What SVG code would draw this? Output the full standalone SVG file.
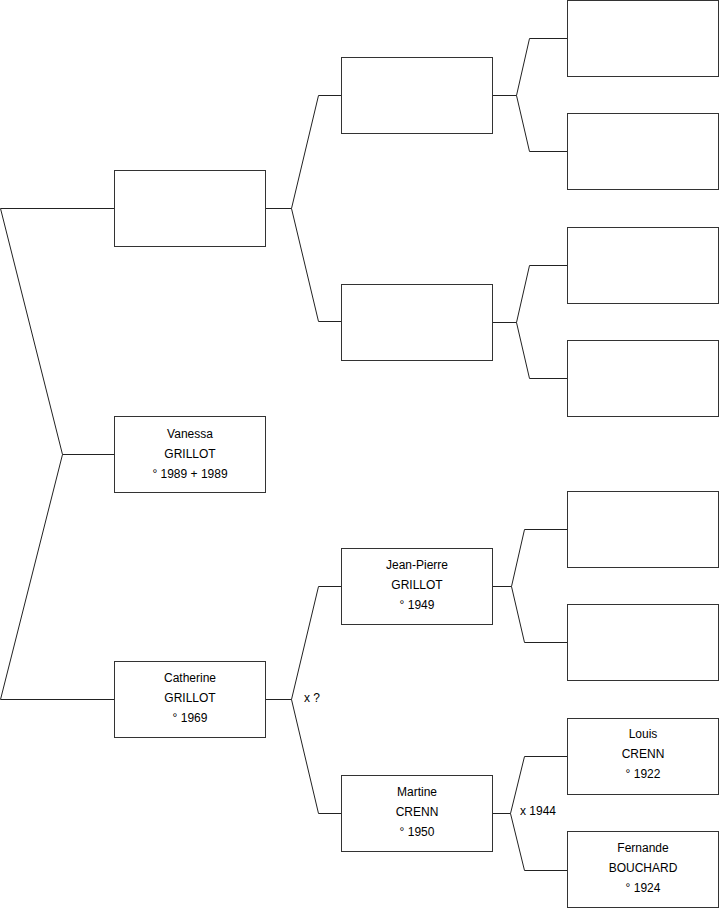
<svg xmlns="http://www.w3.org/2000/svg" width="719" height="908" viewBox="0 0 719 908">
<style>
.box{fill:#fff;stroke:#333;stroke-width:1}
.c{fill:none;stroke:#222;stroke-width:1}
text{font-family:"Liberation Sans",Arial,sans-serif;font-size:12px;fill:#000}
.t{text-anchor:middle}
</style>
<rect width="719" height="908" fill="#fff"/>
<g id="connectors">
<path class="c" d="M114.5,208.5H0.5L62.5,454.5L0.5,699.5H114.5M62.5,454.5H114.5"/>
<path class="c" d="M265.5,208.5H291.5M341.5,95.5H318.5L291.5,208.5L318.5,321.5H341.5"/>
<path class="c" d="M492.5,95.5H516.5M567.5,38.5H529.5L516.5,95.5L529.5,151.5H567.5"/>
<path class="c" d="M492.5,322.5H516.5M567.5,265.5H529.5L516.5,322.5L529.5,378.5H567.5"/>
<path class="c" d="M265.5,699.5H291.5M341.5,586.5H318.5L291.5,699.5L318.5,813.5H341.5"/>
<path class="c" d="M492.5,586.5H511.5M567.5,529.5H524.5L511.5,586.5L524.5,642.5H567.5"/>
<path class="c" d="M492.5,813.5H510.5M567.5,756.5H524.5L510.5,813.5L524.5,870.5H567.5"/>
<text x="304" y="702">x ?</text>
<text x="520" y="815">x 1944</text>
</g>
<g id="n-father"><rect class="box" x="114.5" y="170.5" width="151" height="76"/></g>
<g id="n-vanessa"><rect class="box" x="114.5" y="416.5" width="151" height="76"/>
<text class="t" x="190" y="438">Vanessa</text><text class="t" x="190" y="458">GRILLOT</text><text class="t" x="190" y="478">° 1989 + 1989</text></g>
<g id="n-catherine"><rect class="box" x="114.5" y="661.5" width="151" height="76"/>
<text class="t" x="190" y="682">Catherine</text><text class="t" x="190" y="702">GRILLOT</text><text class="t" x="190" y="722">° 1969</text></g>
<g id="n-ff"><rect class="box" x="341.5" y="57.5" width="151" height="76"/></g>
<g id="n-fm"><rect class="box" x="341.5" y="284.5" width="151" height="76"/></g>
<g id="n-jeanpierre"><rect class="box" x="341.5" y="548.5" width="151" height="76"/>
<text class="t" x="417" y="569">Jean-Pierre</text><text class="t" x="417" y="589">GRILLOT</text><text class="t" x="417" y="609">° 1949</text></g>
<g id="n-martine"><rect class="box" x="341.5" y="775.5" width="151" height="76"/>
<text class="t" x="417" y="796">Martine</text><text class="t" x="417" y="816">CRENN</text><text class="t" x="417" y="836">° 1950</text></g>
<g id="n-g1"><rect class="box" x="567.5" y="0.5" width="151" height="76"/></g>
<g id="n-g2"><rect class="box" x="567.5" y="113.5" width="151" height="76"/></g>
<g id="n-g3"><rect class="box" x="567.5" y="227.5" width="151" height="76"/></g>
<g id="n-g4"><rect class="box" x="567.5" y="340.5" width="151" height="76"/></g>
<g id="n-g5"><rect class="box" x="567.5" y="491.5" width="151" height="76"/></g>
<g id="n-g6"><rect class="box" x="567.5" y="604.5" width="151" height="76"/></g>
<g id="n-louis"><rect class="box" x="567.5" y="718.5" width="151" height="76"/>
<text class="t" x="643" y="738">Louis</text><text class="t" x="643" y="758">CRENN</text><text class="t" x="643" y="778">° 1922</text></g>
<g id="n-fernande"><rect class="box" x="567.5" y="831.5" width="151" height="76"/>
<text class="t" x="643" y="852">Fernande</text><text class="t" x="643" y="872">BOUCHARD</text><text class="t" x="643" y="892">° 1924</text></g>
</svg>
